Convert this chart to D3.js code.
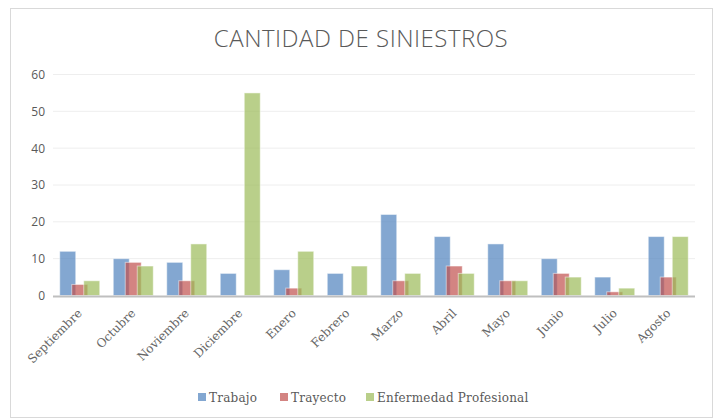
<!DOCTYPE html>
<html><head><meta charset="utf-8">
<script src="https://cdn.jsdelivr.net/npm/d3@7"></script>
<style>body{margin:0;background:#fff}</style>
</head><body>
<svg id="c" width="713" height="418"></svg>
<script>
const categories = ["Septiembre","Octubre","Noviembre","Diciembre","Enero","Febrero","Marzo","Abril","Mayo","Junio","Julio","Agosto"];
const trabajo = [12,10,9,6,7,6,22,16,14,10,5,16];
const trayecto = [3,9,4,0,2,0,4,8,4,6,1,5];
const enfermedad = [4,8,14,55,12,8,6,6,4,5,2,16];
const seriesNames = ["Trabajo","Trayecto","Enfermedad Profesional"];
const seriesColors = ["#4f81bd","#c0504d","#9bbb59"];
const yTicks = [0,10,20,30,40,50,60];
const title = "CANTIDAD DE SINIESTROS";

const series = [trabajo, trayecto, enfermedad];
const svg = d3.select("#c");

svg.append("rect").attr("x",10.5).attr("y",8.5).attr("width",702).attr("height",409)
  .attr("fill","#fff").attr("stroke","#d9d9d9");

svg.append("text").attr("x",361).attr("y",47).attr("text-anchor","middle")
  .attr("font-family","Open Sans").attr("font-weight",300).attr("font-size",24)
  .attr("fill","#595959").attr("letter-spacing","0.5").text(title);

const x = d3.scaleBand().domain(categories).range([53,695]);
const y = d3.scaleLinear().domain([0,60]).range([295.5,74.5]);

const grid = svg.append("g");
grid.selectAll("line").data(yTicks.filter(d=>d>0)).join("line")
  .attr("x1",53).attr("x2",695).attr("y1",d=>y(d)).attr("y2",d=>y(d))
  .attr("stroke","#eeeeee").attr("stroke-width",1);

const yAxis = svg.append("g").attr("transform","translate(45,0)")
  .call(d3.axisLeft(y).tickValues(yTicks).tickSize(0).tickPadding(0));
yAxis.select(".domain").remove();
yAxis.selectAll("text").attr("font-family","Open Sans").attr("font-size",12).attr("fill","#595959");

const barW = 16, step = 12;
const off = d3.scaleLinear().domain([0,2]).range([-step, step]);
series.forEach((vals, si) => {
  svg.append("g").selectAll("rect").data(vals.map((v,i)=>({v, c:categories[i]}))).join("rect")
    .attr("x", d => x(d.c) + x.bandwidth()/2 + off(si) - barW/2)
    .attr("y", d => y(d.v))
    .attr("width", barW)
    .attr("height", d => y(0) - y(d.v))
    .attr("fill", seriesColors[si]).attr("fill-opacity",0.7)
    .attr("stroke","#ffffff").attr("stroke-opacity",0.5).attr("stroke-width",1);
});

svg.append("line").attr("x1",53).attr("x2",695).attr("y1",296.5).attr("y2",296.5)
  .attr("stroke","#bfbfbf").attr("stroke-width",2);

const xl = svg.append("g");
xl.selectAll("text").data(categories).join("text")
  .attr("transform", d => `translate(${x(d)+x.bandwidth()/2+3},${314}) rotate(-45)`)
  .attr("text-anchor","end")
  .attr("font-family","DejaVu Serif").attr("font-size",12).attr("fill","#666666")
  .text(d=>d);

const legendX = [198, 280, 366];
const lg = svg.append("g");
seriesNames.forEach((n,i)=>{
  lg.append("rect").attr("x",legendX[i]).attr("y",393).attr("width",8).attr("height",8)
    .attr("fill",seriesColors[i]).attr("fill-opacity",0.7);
  lg.append("text").attr("x",legendX[i]+11).attr("y",401.5)
    .attr("font-family","DejaVu Serif").attr("font-size",12).attr("fill","#595959")
    .attr("letter-spacing","0.2").text(n);
});
</script>
</body></html>
